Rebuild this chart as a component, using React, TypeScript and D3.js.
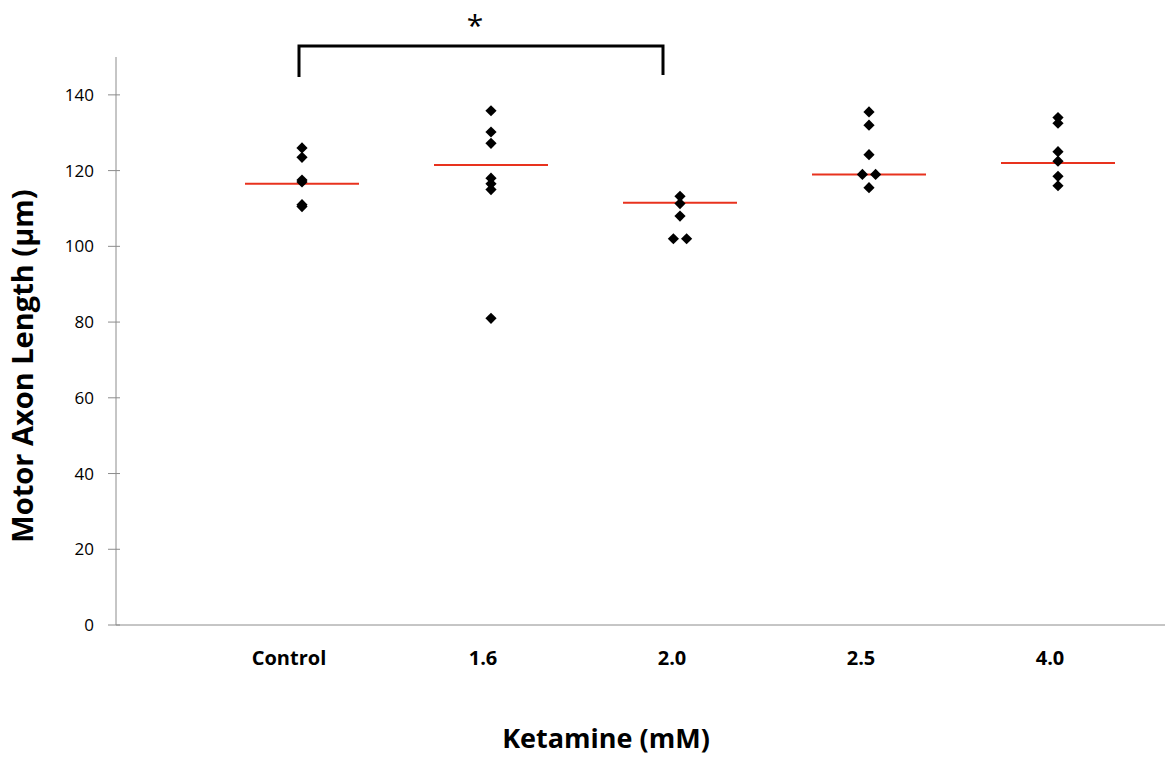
import React from "react";
import * as d3 from "d3";

const categories = ["Control", "1.6", "2.0", "2.5", "4.0"];
const controlValues = [126, 123.5, 117.5, 117, 111, 110.5];
const k16Values = [135.8, 130.2, 127.2, 118, 116.5, 115, 81];
const k20Values = [113.2, 111.3, 108, 102, 102];
const k25Values = [135.5, 132, 124.2, 119, 119, 115.5];
const k40Values = [134, 132.5, 125, 122.5, 118.5, 116];
// small horizontal offsets (fraction of category spacing) for side-by-side points
const k20Offsets = [0, 0, 0, -0.035, 0.035];
const k25Offsets = [0, 0, 0, -0.035, 0.035, 0];
const means = [116.5, 121.5, 111.5, 119, 122];
const yTicks = [0, 20, 40, 60, 80, 100, 120, 140];

const seriesValues = [controlValues, k16Values, k20Values, k25Values, k40Values];
const seriesOffsets = [[], [], k20Offsets, k25Offsets, []];

const W = 1165;
const H = 758;
const font = "'Open Sans', 'DejaVu Sans', sans-serif";

export default function App() {
  const y = d3.scaleLinear().domain([0, 150]).range([625, 57]);
  const x = d3.scalePoint<string>().domain(categories).range([302, 1058]);
  const step = x.step();
  const diamond = d3.symbol().type(d3.symbolDiamond2).size(80)() as string;
  const axisColor = "#8c8c8c";

  return (
    <svg
      width={W}
      height={H}
      style={{ position: "absolute", left: 0, top: 0, background: "#fff" }}
      fontFamily={font}
    >
      {/* Y axis */}
      <line x1={116} x2={116} y1={y(150)} y2={y(0)} stroke={axisColor} strokeWidth={1} />
      {yTicks.map((t) => (
        <g key={t}>
          <line x1={108} x2={120} y1={y(t)} y2={y(t)} stroke={axisColor} strokeWidth={1} />
          <text x={94} y={y(t)} dy="0.36em" textAnchor="end" fontSize={17} fill="#000">
            {t}
          </text>
        </g>
      ))}
      {/* X axis */}
      <line x1={116} x2={1165} y1={y(0)} y2={y(0)} stroke={axisColor} strokeWidth={1} />
      {categories.map((c, i) => (
        <text
          key={c}
          x={(x(c) as number) + (i === 0 ? -13 : -8)}
          y={665}
          textAnchor="middle"
          fontSize={20}
          fontWeight="bold"
          fill="#000"
        >
          {c}
        </text>
      ))}
      {/* Axis titles */}
      <text x={606} y={748} textAnchor="middle" fontSize={27} fontWeight="bold" fill="#000">
        Ketamine (mM)
      </text>
      <text
        transform={`translate(33,366) rotate(-90)`}
        textAnchor="middle"
        fontSize={29}
        fontWeight="bold"
        fill="#000"
      >
        Motor Axon Length (µm)
      </text>
      {/* Mean lines */}
      {categories.map((c, i) => (
        <line
          key={"m" + c}
          x1={(x(c) as number) - 57}
          x2={(x(c) as number) + 57}
          y1={y(means[i])}
          y2={y(means[i])}
          stroke="#e8321e"
          strokeWidth={2}
        />
      ))}
      {/* Points */}
      {categories.map((c, i) =>
        seriesValues[i].map((v, j) => (
          <path
            key={c + "-" + j}
            d={diamond}
            transform={`translate(${(x(c) as number) + (seriesOffsets[i][j] || 0) * step},${y(v)})`}
            fill="#000"
          />
        ))
      )}
      {/* Significance bracket */}
      <path
        d={`M${(x("Control") as number) - 3},${77} V${46} H${(x("2.0") as number) - 17} V${75}`}
        fill="none"
        stroke="#000"
        strokeWidth={3}
      />
      <text x={475} y={36} textAnchor="middle" fontSize={30} fill="#000">
        *
      </text>
    </svg>
  );
}
